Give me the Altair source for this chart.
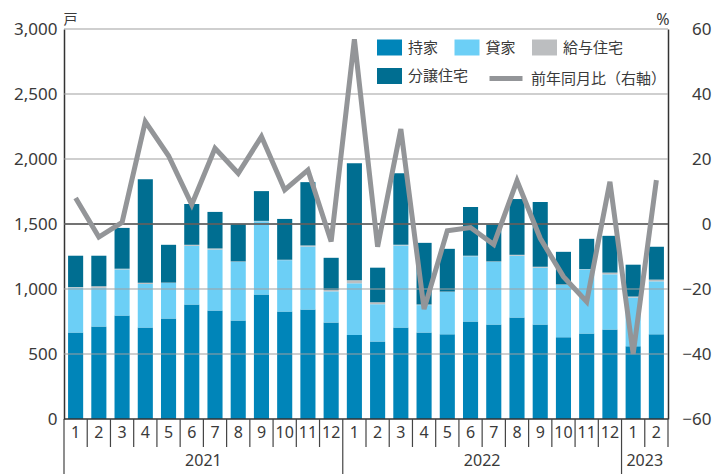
import altair as alt
import pandas as pd

# ---- data ----
months = [1, 2, 3, 4, 5, 6, 7, 8, 9, 10, 11, 12,
          1, 2, 3, 4, 5, 6, 7, 8, 9, 10, 11, 12,
          1, 2]
year_labels = ["2021", "2022", "2023"]
mochiie = [665, 712, 796, 704, 773, 881, 835, 758, 957, 827, 842, 743,
           646, 597, 704, 666, 651, 750, 727, 781, 727, 628, 658, 689,
           559, 651]
kashiya = [345, 297, 355, 335, 273, 451, 469, 451, 564, 395, 485, 239,
           398, 286, 631, 210, 326, 502, 482, 475, 437, 403, 493, 424,
           375, 408]
kyuyo = [5, 12, 5, 10, 3, 8, 8, 3, 3, 3, 8, 11,
         23, 15, 5, 5, 3, 4, 3, 7, 7, 4, 3, 13,
         8, 13]
bunjo = [241, 235, 314, 796, 291, 314, 281, 286, 229, 314, 487, 247,
         901, 266, 551, 474, 329, 375, 283, 429, 498, 251, 232, 283,
         245, 253]
yoy = [8.0, -4.0, 0.5, 31.5, 21.0, 6.0, 23.3, 15.6, 26.9, 10.5, 16.6, -5.4,
       56.8, -7.0, 29.2, -26.2, -2.1, -1.1, -6.3, 13.3, -4.4, -16.2, -23.9, 13.0,
       -40.0, 13.5]
cats = ["持家", "貸家", "給与住宅", "分譲住宅"]
colors = ["#0085b9", "#6ccff6", "#bcbec0", "#006e91"]
line_name = "前年同月比（右軸）"
left_ticks = [0, 500, 1000, 1500, 2000, 2500, 3000]
right_ticks = [-60, -40, -20, 0, 20, 40, 60]

W, H = 604, 390
N = len(months)
PI, PO = 0.35, 0.175
STEP = W / N
HALFGAP = STEP * PI / 2

JP = "Noto Sans CJK JP"
NUM = "Liberation Sans Narrow, Noto Sans, sans-serif"
TXT = "#3a3a3a"
LINEC = "#939598"
RECT = "M-1.5625,-1H1.5625V1H-1.5625Z"

rows = []
for i in range(N):
    for k, (c, arr) in enumerate(zip(cats, [mochiie, kashiya, kyuyo, bunjo])):
        rows.append(dict(idx=i, cat=c, ord=k, val=arr[i], tag=cats[3]))
bars_df = pd.DataFrame(rows)
line_df = pd.DataFrame(dict(idx=list(range(N)), yoy=yoy, series=[line_name] * N))
grid_df = pd.DataFrame(dict(g=left_ticks[1:]))
zero_df = pd.DataFrame(dict(z=[0]))
month_df = pd.DataFrame(dict(idx=list(range(N)), m=[str(m) for m in months]))

xscale = alt.Scale(paddingInner=PI, paddingOuter=PO)
Xn = alt.X("idx:O", scale=xscale, axis=None)

yleft = alt.Scale(domain=[0, 3000], nice=False)
yright = alt.Scale(domain=[-60, 60], nice=False)

bars = alt.Chart(bars_df).mark_bar().encode(
    x=Xn,
    y=alt.Y("val:Q", stack="zero", scale=yleft,
            axis=alt.Axis(values=left_ticks, format=",d", ticks=False, grid=False,
                          domainColor="#333", domainWidth=1.5, labelPadding=7,
                          labelFont=NUM, labelFontSize=17, labelColor=TXT,
                          title="戸", titleAngle=0, titleX=6, titleY=-10,
                          titleAlign="center", titleBaseline="middle",
                          titleFont=JP, titleFontSize=14, titleFontWeight="normal",
                          titleColor=TXT)),
    color=alt.Color("cat:N", scale=alt.Scale(domain=cats, range=colors),
                    legend=alt.Legend(orient="none", legendX=317.5, legendY=10.5,
                                      direction="horizontal", values=cats[:3],
                                      symbolType=RECT, symbolSize=256,
                                      symbolStrokeWidth=0, symbolOpacity=1,
                                      labelOffset=10.5, columnPadding=15.5,
                                      labelFont=JP, labelFontSize=15, labelColor=TXT,
                                      title=None, padding=0)),
    opacity=alt.Opacity("tag:N", scale=alt.Scale(range=[1, 1]),
                        legend=alt.Legend(orient="none", legendX=317.5, legendY=39,
                                          symbolType=RECT, symbolSize=256,
                                          symbolStrokeWidth=0, symbolFillColor=colors[3],
                                          labelOffset=10.5,
                                          labelFont=JP, labelFontSize=15, labelColor=TXT,
                                          title=None, padding=0)),
    order=alt.Order("ord:Q", sort="ascending"),
)
grid = alt.Chart(grid_df).mark_rule(color="#a0a0a0", strokeWidth=1.2).encode(
    y=alt.Y("g:Q", scale=yleft))
bar_group = alt.layer(bars, grid)

zero = alt.Chart(zero_df).mark_rule(color="#555555", strokeWidth=1.4).encode(
    y=alt.Y("z:Q", scale=yright))
line = alt.Chart(line_df).mark_line(strokeWidth=5, strokeJoin="miter").encode(
    x=Xn,
    y=alt.Y("yoy:Q", scale=yright,
            axis=alt.Axis(orient="right", values=right_ticks, ticks=False, grid=False,
                          domainColor="#333", domainWidth=1.5, labelAlign="right",
                          labelPadding=43, labelFont=NUM, labelFontSize=17,
                          labelColor=TXT, title="%", titleAngle=0, titleX=1, titleY=-10,
                          titleAlign="right", titleBaseline="middle", titleFont=NUM,
                          titleFontSize=16, titleFontWeight="normal", titleColor=TXT)),
    stroke=alt.Stroke("series:N", scale=alt.Scale(range=[LINEC]),
                      legend=alt.Legend(orient="none", legendX=423, legendY=30.5,
                                        symbolType="stroke", symbolSize=1089,
                                        symbolStrokeWidth=5, labelOffset=6,
                                        labelFont=JP, labelFontSize=15, labelColor=TXT,
                                        title=None, padding=0)),
)
line_group = alt.layer(zero, line)

# x-axis: baseline, month labels, separators and year labels
month_sep_df = pd.DataFrame(dict(idx=[i for i in range(1, N) if i not in (12, 24)]))
year_sep_df = pd.DataFrame(dict(idx=[0, 12, 24]))
end_df = pd.DataFrame(dict(idx=[N - 1]))
year_df = pd.DataFrame(dict(idx=[6, 18, 25], year=year_labels))

baseline = alt.Chart(end_df).mark_rule(color="#333", strokeWidth=1.5).encode(
    x=alt.value(0), x2=alt.value(W), y=alt.value(H))
month_txt = alt.Chart(month_df).mark_text(font=NUM, fontSize=16, color=TXT,
                                          baseline="middle").encode(
    x=Xn, y=alt.value(H + 14), text="m:N")
month_sep = alt.Chart(month_sep_df).mark_rule(color="#444", strokeWidth=1.2, xOffset=-HALFGAP).encode(
    x=alt.X("idx:O", scale=xscale, axis=None, bandPosition=0),
    y=alt.value(H), y2=alt.value(H + 28))
year_sep = alt.Chart(year_sep_df).mark_rule(color="#444", strokeWidth=1.2, xOffset=-HALFGAP).encode(
    x=alt.X("idx:O", scale=xscale, axis=None, bandPosition=0),
    y=alt.value(H), y2=alt.value(H + 56))
end_sep = alt.Chart(end_df).mark_rule(color="#444", strokeWidth=1.2, xOffset=HALFGAP).encode(
    x=alt.X("idx:O", scale=xscale, axis=None, bandPosition=1),
    y=alt.value(H), y2=alt.value(H + 28))
years = alt.Chart(year_df).mark_text(font=NUM, fontSize=16, color=TXT, baseline="middle",
                                     xOffset=-HALFGAP).encode(
    x=alt.X("idx:O", scale=xscale, axis=None, bandPosition=0),
    y=alt.value(H + 42), text="year:N")

chart = alt.layer(bar_group, line_group, baseline, month_txt, month_sep, year_sep,
                  end_sep, years).resolve_scale(
    y="independent"
).properties(
    width=W, height=H,
    autosize=alt.AutoSizeParams(type="none"),
    padding={"left": 56, "top": 21, "right": 44, "bottom": 55},
).configure_view(stroke=None)

chart.save("out.html", embed_options={"renderer": "svg", "actions": False})
